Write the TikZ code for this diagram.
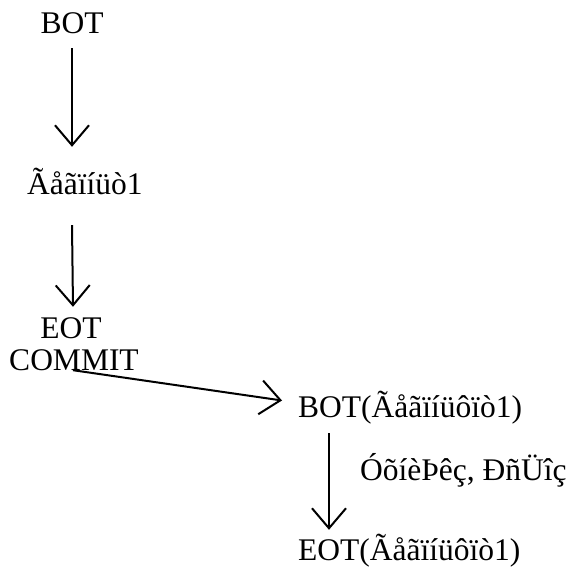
\documentclass[tikz,border=0pt]{standalone}
\usepackage{fontspec}
\setmainfont{Liberation Serif}
\usetikzlibrary{arrows.meta}
\begin{document}
\begin{tikzpicture}[x=1pt,y=1pt,
  lbl/.style={inner sep=0pt, text height=22pt, text depth=7pt, font=\fontsize{31.5}{32}\selectfont},
  arr/.style={line width=2pt, -{Straight Barb[length=20pt,width=34pt,line width=2pt]}}]
\useasboundingbox (0,0) rectangle (571,-567);
\node[lbl, anchor=base] (bot1) at (72,-34) {BOT};
\node[lbl, anchor=base west] (txt1) at (27,-195) {Ãåãïíüò1};
\node[lbl, anchor=base] (eot1) at (71,-338) {EOT};
\node[lbl, anchor=base] (commit) at (74,-370) {COMMIT};
\node[lbl, anchor=base west] (bot2) at (298,-417) {BOT(Ãåãïíüôïò1)};
\node[lbl, anchor=base west] (act) at (360,-480) {ÓõíèÞêç, ÐñÜîç};
\node[lbl, anchor=base west] (eot2) at (298,-560) {EOT(Ãåãïíüôïò1)};
\draw[arr] ([yshift=-7pt]bot1.south) -- ([yshift=26pt]bot1.south |- txt1.north);
\draw[arr] ([yshift=-23pt]bot1.south |- txt1.south) -- ([xshift=2pt,yshift=9pt]eot1.north);
\draw[arr] ([xshift=-1pt,yshift=7pt]commit.south) -- ([xshift=-16pt,yshift=9pt]bot2.west);
\draw[arr] ([xshift=31pt,yshift=-9pt]bot2.south west) -- ([xshift=31pt,yshift=8pt]eot2.north west);
\end{tikzpicture}
\end{document}
